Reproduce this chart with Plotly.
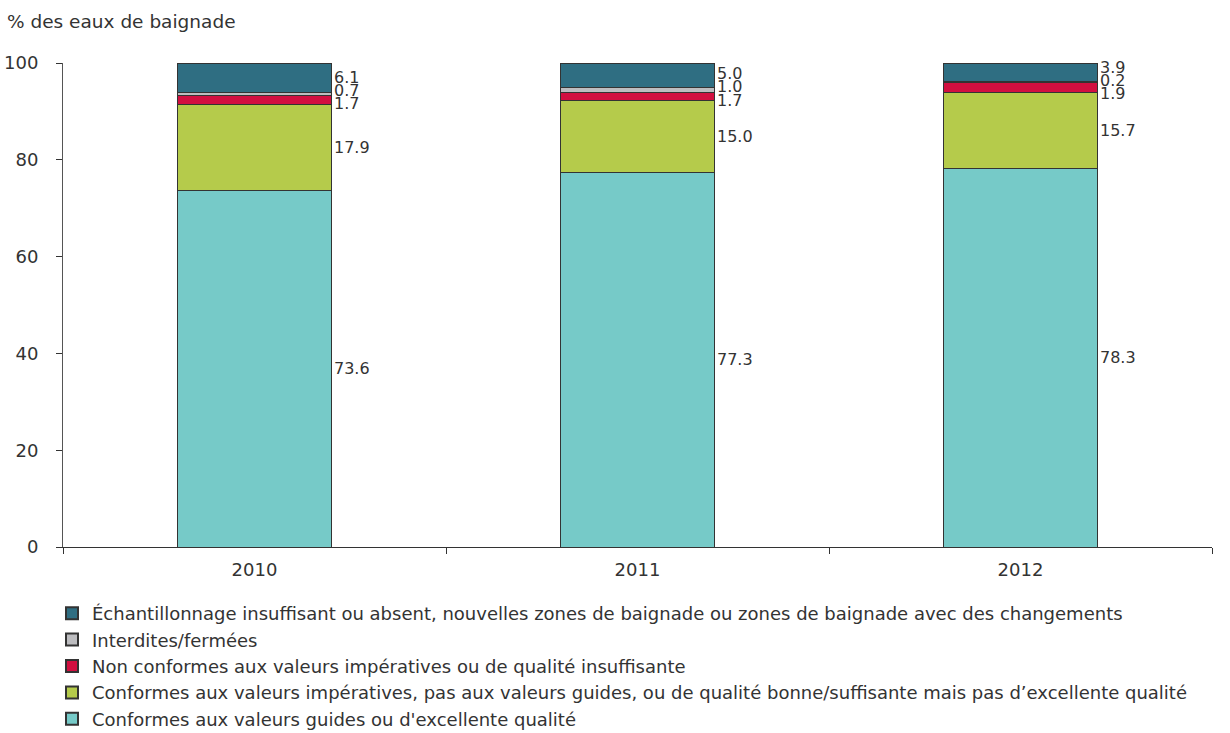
import plotly.graph_objects as go

years = ["2010", "2011", "2012"]
series_names = [
    "Conformes aux valeurs guides ou d'excellente qualité",
    "Conformes aux valeurs impératives, pas aux valeurs guides, ou de qualité bonne/suffisante mais pas d’excellente qualité",
    "Non conformes aux valeurs impératives ou de qualité insuffisante",
    "Interdites/fermées",
    "Échantillonnage insuffisant ou absent, nouvelles zones de baignade ou zones de baignade avec des changements",
]
excellente = [73.6, 77.3, 78.3]
bonne = [17.9, 15.0, 15.7]
insuffisante = [1.7, 1.7, 1.9]
interdites = [0.7, 1.0, 0.2]
echantillonnage = [6.1, 5.0, 3.9]
colors = ["#76CAC8", "#B5CB4B", "#D20F40", "#BDBDC0", "#2F6E82"]

series = [excellente, bonne, insuffisante, interdites, echantillonnage]

FONT = "DejaVu Sans"
TXT = "#333333"

fig = go.Figure()
for name, vals, col in zip(series_names, series, colors):
    fig.add_trace(go.Bar(
        x=years, y=vals, name=name,
        marker=dict(color=col, line=dict(color="#333333", width=1)),
        hoverinfo="name+y",
    ))

# label positions: segment midpoints, spread apart when too close
MIN_GAP = 2.7
annotations = []
for i, yr in enumerate(years):
    mids = []
    base = 0.0
    for vals in series:
        mids.append(base + vals[i] / 2)
        base += vals[i]
    pos = list(mids)
    groups = [[k] for k in range(len(pos))]
    changed = True
    while changed:
        changed = False
        new_groups = [groups[0]]
        for g in groups[1:]:
            prev = new_groups[-1]
            if pos[g[0]] - pos[prev[-1]] < MIN_GAP:
                merged = prev + g
                m = sum(mids[k] for k in merged) / len(merged)
                n = len(merged)
                for j, k in enumerate(merged):
                    pos[k] = m + (j - (n - 1) / 2) * MIN_GAP
                new_groups[-1] = merged
                changed = True
            else:
                new_groups.append(g)
        groups = new_groups
    for vals, p in zip(series, pos):
        annotations.append(dict(
            x=i, y=p, xref="x", yref="y", text=f"{vals[i]:.1f}",
            showarrow=False, xanchor="left", yanchor="middle", xshift=77,
            font=dict(family=FONT, size=16, color=TXT),
        ))

fig.update_layout(
    width=1230, height=733,
    margin=dict(l=63, r=18, t=63, b=186, autoexpand=False),
    paper_bgcolor="white", plot_bgcolor="white",
    barmode="stack", bargap=0.6,
    font=dict(family=FONT, size=17, color=TXT),
    title=dict(text="% des eaux de baignade", x=7 / 1230, xanchor="left",
               xref="container", y=1 - 22 / 733, yref="container", yanchor="middle",
               font=dict(size=18.5, color=TXT)),
    annotations=annotations,
    showlegend=True,
    legend=dict(orientation="v", traceorder="reversed", x=52 / 1230, xanchor="left",
                xref="container", y=1 - 595 / 733, yref="container", yanchor="top",
                font=dict(size=18, color=TXT),
                tracegroupgap=0, itemsizing="constant", itemwidth=30),
    xaxis=dict(type="category", tickson="boundaries", ticks="outside", ticklen=6,
               tickcolor="#333333", showline=True, linecolor="#333333", linewidth=1,
               showgrid=False, tickfont=dict(size=18), automargin=False,
               ticklabelstandoff=6),
    yaxis=dict(range=[0, 100], tickvals=[0, 20, 40, 60, 80, 100], ticks="outside",
               ticklen=6, tickcolor="#333333", showline=True, linecolor="#555555",
               linewidth=1, showgrid=False, zeroline=False, tickfont=dict(size=18),
               ticklabelstandoff=14, automargin=False),
)

fig.write_html("out.html", config={"displayModeBar": False},
               post_script="document.body.style.margin='0';")
